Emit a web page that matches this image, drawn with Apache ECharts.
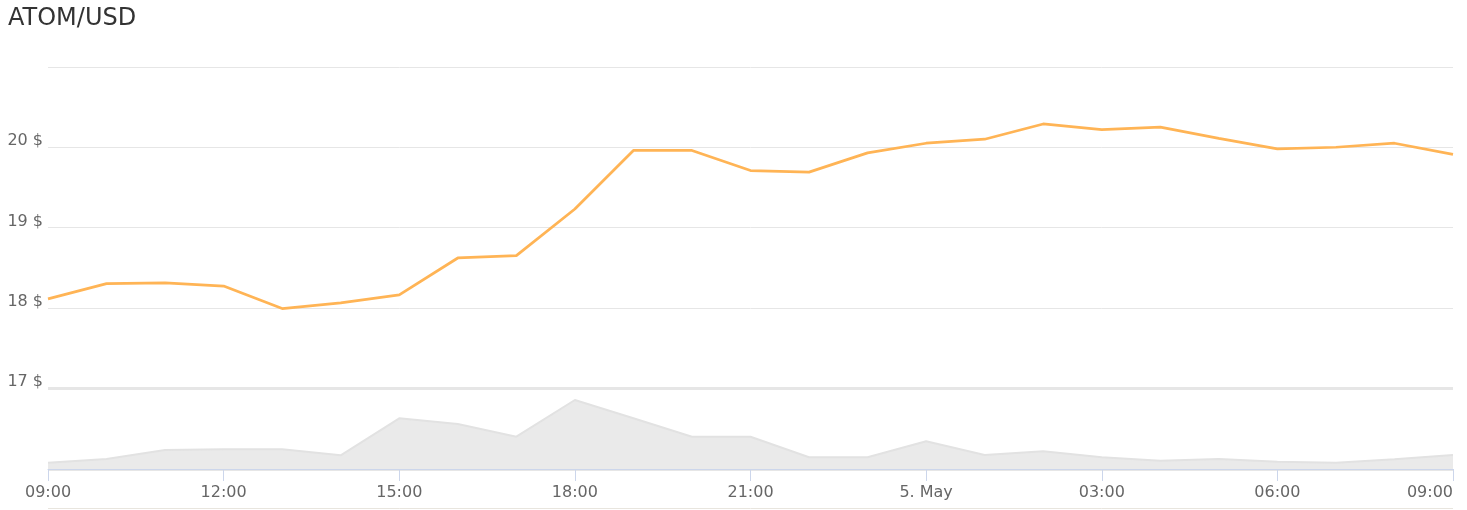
<!DOCTYPE html>
<html>
<head>
<meta charset="utf-8">
<script src="https://cdn.jsdelivr.net/npm/echarts@6/dist/echarts.min.js"></script>
<style>
html,body{margin:0;padding:0;background:#fff;}
#chart{width:1467px;height:510px;}
</style>
</head>
<body>
<div id="chart"></div>
<script>
const hours = ['09:00','10:00','11:00','12:00','13:00','14:00','15:00','16:00','17:00','18:00','19:00','20:00','21:00','22:00','23:00','00:00','01:00','02:00','03:00','04:00','05:00','06:00','07:00','08:00','09:00'];
const dayLabel = '5. May';
const price = [18.11,18.30,18.31,18.27,17.99,18.06,18.16,18.62,18.65,19.23,19.96,19.96,19.71,19.69,19.93,20.05,20.10,20.29,20.22,20.25,20.11,19.98,20.00,20.05,19.91];
const volume = [6.3,10,19,19.7,19.7,13.7,50.7,45,32.3,69,50.7,32.3,32.3,11.7,11.7,27.7,14,17.7,11.7,8.3,10,7.3,6.3,9.7,14];
const priceTicks = [17,18,19,20,21];

const chart = echarts.init(document.getElementById('chart'));
const FONT = 'DejaVu Sans';
chart.setOption({
  animation: false,
  textStyle: {fontFamily: FONT},
  title: {
    text: 'ATOM/USD', left: 8, top: 7, padding: 0,
    textStyle: {fontFamily: FONT, fontSize: 24, fontWeight: 'normal', color: '#333333'}
  },
  grid: [
    {left: 48, right: 14, top: 67, height: 321},
    {left: 48, right: 14, top: 388, height: 81}
  ],
  xAxis: [
    {type: 'category', gridIndex: 0, data: hours, boundaryGap: false, show: false},
    {type: 'category', gridIndex: 1, data: hours, boundaryGap: false,
     axisLine: {lineStyle: {color: '#ccd6eb', width: 1}},
     axisTick: {interval: 2, length: 12, lineStyle: {color: '#ccd6eb'}},
     axisLabel: {interval: 2, margin: 16, fontSize: 16, color: '#666666', fontFamily: FONT,
       alignMaxLabel: 'right',
       formatter: v => v === '00:00' ? dayLabel : v},
     splitLine: {show: false}}
  ],
  yAxis: [
    {type: 'value', gridIndex: 0, min: priceTicks[0], max: priceTicks[priceTicks.length-1], interval: 1,
     axisLine: {show: false}, axisTick: {show: false},
     axisLabel: {fontSize: 16, color: '#666666', margin: 5, fontFamily: FONT, verticalAlign: 'bottom', lineHeight: 12,
       showMaxLabel: false,
       formatter: v => v === priceTicks[priceTicks.length-1] ? '' : v + ' $'},
     splitLine: {lineStyle: {color: '#e6e6e6', width: 1}}},
    {type: 'value', gridIndex: 1, min: 0, max: 81, interval: 81,
     axisLine: {show: false}, axisTick: {show: false}, axisLabel: {show: false},
     splitLine: {lineStyle: {color: '#e6e6e6', width: 3}}}
  ],
  series: [
    {type: 'line', xAxisIndex: 1, yAxisIndex: 1, data: volume, symbol: 'none',
     lineStyle: {color: '#e2e2e2', width: 2}, areaStyle: {color: '#eaeaea', opacity: 1}, z: 1},
    {type: 'line', xAxisIndex: 0, yAxisIndex: 0, data: price, symbol: 'none',
     lineStyle: {color: '#ffb455', width: 2.75}, z: 3}
  ],
  graphic: [
    {type: 'line', shape: {x1: 48, y1: 508.5, x2: 1453, y2: 508.5}, style: {stroke: '#e8e5de', lineWidth: 1}, silent: true}
  ]
});
</script>
</body>
</html>
